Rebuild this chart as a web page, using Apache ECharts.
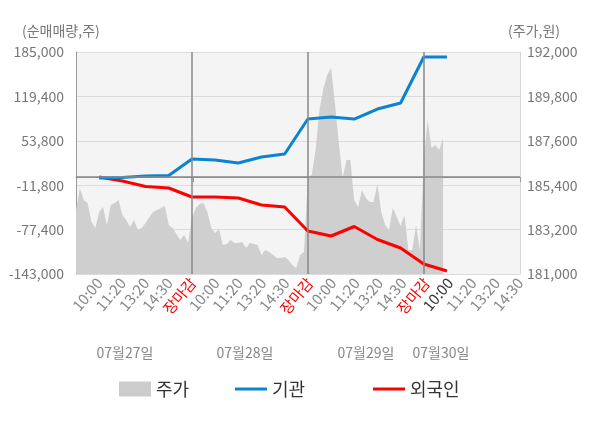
<!DOCTYPE html>
<html>
<head>
<meta charset="utf-8">
<script src="https://cdn.jsdelivr.net/npm/echarts@6/dist/echarts.min.js"></script>
<style>
  html, body { margin: 0; padding: 0; background: #fff; }
  #chart { width: 600px; height: 428px; }
</style>
</head>
<body>
<div id="chart"></div>
<script>
// x 축 라벨 (0번은 빈 자리)
var timeLabels = ["", "10:00", "11:20", "13:20", "14:30", "장마감",
  "10:00", "11:20", "13:20", "14:30", "장마감",
  "10:00", "11:20", "13:20", "14:30", "장마감",
  "10:00", "11:20", "13:20", "14:30"];
var dateLabels = ["07월27일", "07월28일", "07월29일", "07월30일"];

// 순매매량 (주) - 1번 칸부터
var institution = [-1200, -430, 1790, 2530, 26900, 25430, 21000, 29860, 34300,
  86000, 88960, 86000, 100780, 109650, 177600, 177600];
var foreigner = [300, -5600, -13720, -15940, -29240, -29240, -30720, -41060, -44010,
  -79470, -86860, -72820, -92030, -104590, -128230, -138570];

// 주가 (원), 칸 하나를 6 등분한 간격
var price = [184170, 185250, 184670, 184520, 183580, 183280, 184070, 184320, 183430, 184420,
  184520, 184670, 183920, 183680, 183330, 183680, 183180, 183280, 183530, 183820,
  184070, 184170, 184270, 184370, 183430, 183280, 182980, 182690, 182930, 182540,
  183770, 184270, 184470, 184520, 184070, 183280, 183030, 183230, 182440, 182490,
  182690, 182540, 182540, 182590, 182290, 182540, 182490, 182440, 181940, 182190,
  182090, 181940, 181790, 181790, 181840, 181690, 181450, 181300, 181940, 182090,
  185810, 185910, 187140, 189130, 190170, 190860, 191210, 189470, 187540, 185760,
  186650, 186650, 184670, 184320, 185160, 184770, 184570, 184570, 185460, 184070,
  183430, 183180, 184270, 183820, 183380, 183920, 182190, 182190, 183430, 182190,
  186650, 188630, 187240, 187390, 187140, 187740];
var priceStep = 6;
var dayEnds = [5, 10, 15];

var font = "'Noto Sans CJK KR', 'Noto Sans', sans-serif";

var catData = timeLabels.map(function (t, i) {
  if (t === "장마감") return { value: t, textStyle: { color: "#ff0000" } };
  if (i === 16) return { value: t, textStyle: { color: "#333" } };
  return t;
});
var pricePts = price.map(function (v, i) { return [i / priceStep, v]; });
function slots(arr) { return arr.map(function (v, i) { return [i + 1, v]; }); }

var chart = echarts.init(document.getElementById("chart"));
chart.setOption({
  animation: false,
  textStyle: { fontFamily: font },
  grid: {
    left: 76, right: 80, top: 52, bottom: 154,
    show: true, backgroundColor: "#f4f4f4", borderWidth: 0
  },
  legend: [
    { data: ["주가"], left: 114, top: 375, icon: "rect", itemWidth: 32, itemHeight: 15,
      textStyle: { fontSize: 18, color: "#333", fontFamily: font } },
    { data: ["기관"], left: 230, top: 375, icon: "rect", itemWidth: 32, itemHeight: 3,
      textStyle: { fontSize: 18, color: "#333", fontFamily: font } },
    { data: ["외국인"], left: 368, top: 375, icon: "rect", itemWidth: 32, itemHeight: 3,
      textStyle: { fontSize: 18, color: "#333", fontFamily: font } }
  ],
  xAxis: [
    {
      type: "category",
      data: catData,
      boundaryGap: false,
      axisLine: { lineStyle: { color: "#999" } },
      axisTick: {
        length: 5,
        interval: function (i) { return i % 5 === 0 || i === 19; },
        lineStyle: { color: "#999" }
      },
      axisLabel: { interval: 0, rotate: 50, color: "#888", fontSize: 15, margin: 6 },
      splitLine: { show: false }
    },
    { type: "value", min: 0, max: 19.15, show: false }
  ],
  yAxis: [
    {
      type: "value",
      min: -143000, max: 185000, interval: 65600,
      axisLine: { show: true, lineStyle: { color: "#999" } },
      axisTick: { show: false },
      axisLabel: { color: "#777", fontSize: 14, margin: 12 },
      splitLine: { lineStyle: { color: "#dcdcdc" } }
    },
    {
      type: "value",
      min: 181000, max: 192000, interval: 2200,
      axisLine: { show: true, lineStyle: { color: "#d6d6d6" } },
      axisTick: { show: false },
      axisLabel: { color: "#777", fontSize: 14, margin: 7 },
      splitLine: { show: false }
    }
  ],
  graphic: [
    { type: "text", left: 22, top: 24, style: { text: "(순매매량,주)", fill: "#777", font: "14px " + font } },
    { type: "text", left: 508, top: 24, style: { text: "(주가,원)", fill: "#777", font: "14px " + font } }
  ].concat(dateLabels.map(function (d, i) {
    var cx = [125, 245, 366, 441][i];
    return { type: "text", x: cx, y: 353,
      style: { text: d, fill: "#888", font: "14px " + font, align: "center", verticalAlign: "middle" } };
  })),
  series: [
    {
      name: "주가",
      type: "line",
      xAxisIndex: 1, yAxisIndex: 1,
      data: pricePts,
      symbol: "none",
      color: "#cccccc",
      lineStyle: { width: 0 },
      areaStyle: { color: "#cfcfcf", opacity: 1, origin: "start" }
    },
    {
      name: "외국인",
      type: "line",
      xAxisIndex: 1,
      data: slots(foreigner),
      symbol: "none",
      color: "#ff0000",
      lineStyle: { width: 3, color: "#ff0000" },
      markLine: {
        silent: true, symbol: "none", label: { show: false },
        lineStyle: { color: "#888", type: "solid", width: 1.5 },
        data: dayEnds.map(function (k) { return { xAxis: k }; }).concat([{ yAxis: 0 }])
      }
    },
    {
      name: "기관",
      type: "line",
      xAxisIndex: 1,
      data: slots(institution),
      symbol: "none",
      color: "#0a84d0",
      lineStyle: { width: 3, color: "#0a84d0" }
    }
  ]
});
</script>
</body>
</html>
